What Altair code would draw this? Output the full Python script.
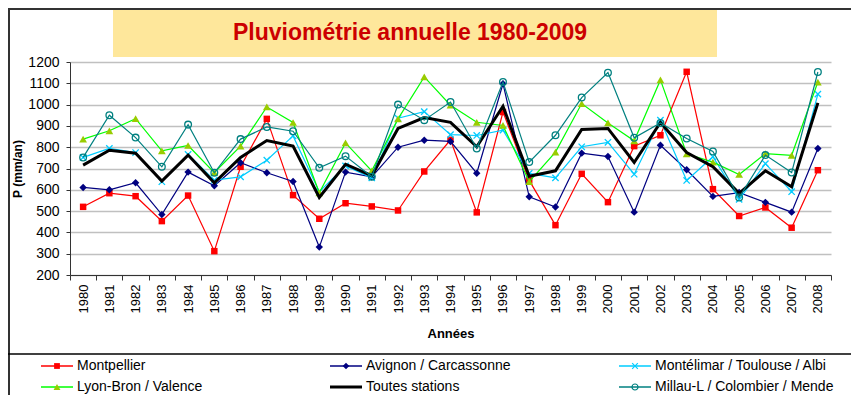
import altair as alt
import pandas as pd

annees = ["1980", "1981", "1982", "1983", "1984", "1985", "1986", "1987", "1988", "1989",
          "1990", "1991", "1992", "1993", "1994", "1995", "1996", "1997", "1998", "1999",
          "2000", "2001", "2002", "2003", "2004", "2005", "2006", "2007", "2008"]

montpellier = [520, 584, 570, 453, 573, 312, 708, 933, 575, 464, 537, 522, 503, 686, 835,
               494, 965, 644, 434, 675, 542, 805, 856, 1154, 603, 477, 517, 422, 692]
avignon = [611, 600, 633, 484, 683, 619, 727, 680, 639, 331, 683, 661, 800, 833, 827,
           678, 1098, 567, 519, 772, 756, 495, 809, 694, 569, 587, 541, 495, 794]
montelimar = [752, 794, 775, 638, 766, 645, 661, 739, 853, 591, 712, 656, 936, 967, 859,
              855, 880, 677, 656, 802, 823, 673, 927, 644, 755, 555, 723, 591, 1049]
lyon = [838, 877, 934, 783, 808, 681, 805, 989, 916, 586, 820, 689, 933, 1130, 997,
        917, 902, 638, 777, 1005, 914, 830, 1116, 769, 730, 672, 770, 762, 1106]
toutes = [716, 786, 772, 641, 763, 633, 752, 831, 805, 564, 720, 666, 888, 939, 917,
          802, 992, 664, 689, 883, 888, 728, 916, 775, 708, 583, 689, 614, 1008]
millau = [752, 950, 845, 708, 906, 680, 838, 895, 875, 703, 758, 661, 1000, 927, 1012,
          794, 1106, 730, 856, 1033, 1150, 844, 914, 841, 780, 564, 763, 681, 1153]

series_names = ["Montpellier", "Avignon / Carcassonne", "Montélimar / Toulouse / Albi",
                "Lyon-Bron / Valence", "Toutes stations", "Millau-L / Colombier / Mende"]
series_values = [montpellier, avignon, montelimar, lyon, toutes, millau]
y_ticks = [200, 300, 400, 500, 600, 700, 800, 900, 1000, 1100, 1200]
titre = "Pluviométrie annuelle 1980-2009"

rows = []
for name, vals in zip(series_names, series_values):
    for a, v in zip(annees, vals):
        rows.append({"annee": a, "serie": name, "p": v})
df = pd.DataFrame(rows)

X_PATH = "M-1,-1L1,1M-1,1L1,-1"
styles = {
    "Montpellier": dict(line="#FF0000", w=1.2, shape="square", fill="#FF0000", stroke=None, size=42),
    "Avignon / Carcassonne": dict(line="#000080", w=1.2, shape="diamond", fill="#000080", stroke=None, size=55),
    "Montélimar / Toulouse / Albi": dict(line="#00CCFF", w=1.2, shape=X_PATH, fill=None, stroke="#00CCFF", size=40),
    "Lyon-Bron / Valence": dict(line="#00FF00", w=1.2, shape="triangle-up", fill="#99CC00", stroke=None, size=60),
    "Toutes stations": dict(line="#000000", w=3, shape=None, fill=None, stroke=None, size=0),
    "Millau-L / Colombier / Mende": dict(line="#008080", w=1.2, shape="circle", fill=None, stroke="#008080", size=45),
}

W, H = 761, 213
OX, OY = 70, 62  # page position of plot origin
TOTAL_H = 387

x_enc = alt.X(
    "annee:O", bandPosition=0.5,
    scale=alt.Scale(type="band", paddingInner=0, paddingOuter=0, domain=annees),
    axis=alt.Axis(title="Années", labelAngle=270, labelAlign="right", labelBaseline="middle",
                  labelFontSize=13, labelPadding=4, tickBand="extent", tickSize=5,
                  titleFontSize=13, titleFontWeight="bold", titleX=W / 2, titleY=58,
                  titleBaseline="middle", grid=False, domainColor="#333333",
                  tickColor="#333333", labelColor="#000000", titleColor="#000000"),
)
y_enc = alt.Y(
    "p:Q",
    scale=alt.Scale(domain=[200, 1200], nice=False, zero=False),
    axis=alt.Axis(values=y_ticks, format="d", title="P (mm/an)", labelFontSize=14, labelPadding=7,
                  tickSize=4, titleFontSize=12, titleFontWeight="bold", titleAngle=270,
                  titleX=17 - OX, titleY=H / 2, titleAlign="center", titleBaseline="middle",
                  grid=True, gridColor="#C0C0C0", gridWidth=1.3, domainColor="#333333",
                  tickColor="#333333", labelColor="#000000", titleColor="#000000"),
)

one = pd.DataFrame({"k": [0]})
layers = []

# frame & title box
layers.append(alt.Chart(one).mark_rule(color="#333333", strokeWidth=2).encode(
    x=alt.value(8 - OX), x2=alt.value(851 - OX), y=alt.value(9 - OY)))
layers.append(alt.Chart(one).mark_rule(color="#333333", strokeWidth=2).encode(
    x=alt.value(9 - OX), y=alt.value(8 - OY), y2=alt.value(8 + TOTAL_H - OY)))
layers.append(alt.Chart(one).mark_rule(color="#000000", strokeWidth=1.3).encode(
    x=alt.value(8 - OX), x2=alt.value(851 - OX), y=alt.value(354 - OY)))
layers.append(alt.Chart(one).mark_rect(color="#FEE79B").encode(
    x=alt.value(113 - OX), x2=alt.value(717 - OX), y=alt.value(10 - OY), y2=alt.value(57 - OY)))
layers.append(alt.Chart(one).mark_text(text=titre, font="Arial", fontSize=23, fontWeight="bold",
                                       color="#CC0000", align="center", baseline="alphabetic").encode(
    x=alt.value(410 - OX), y=alt.value(40 - OY)))

# data series
for name in series_names:
    st = styles[name]
    base = alt.Chart(df).transform_filter(alt.datum.serie == name)
    layers.append(base.mark_line(color=st["line"], strokeWidth=st["w"]).encode(x=x_enc, y=y_enc))
    if st["shape"]:
        kw = dict(shape=st["shape"], size=st["size"], opacity=1)
        if st["fill"]:
            kw.update(filled=True, fill=st["fill"], color=st["fill"], strokeWidth=0)
        else:
            kw.update(filled=False, stroke=st["stroke"], color=st["stroke"], strokeWidth=1.3)
        layers.append(base.mark_point(**kw).encode(x=x_enc, y=y_enc))

# legend
col_x = [41, 330, 619]
row_y = [366, 387]
for i, name in enumerate(series_names):
    st = styles[name]
    lx = col_x[i % 3] - OX
    ly = row_y[i // 3] - OY
    layers.append(alt.Chart(one).mark_rule(color=st["line"], strokeWidth=min(st["w"] + 0.3, 3)).encode(
        x=alt.value(lx), x2=alt.value(lx + 32), y=alt.value(ly)))
    if st["shape"]:
        kw = dict(shape=st["shape"], size=st["size"] * 0.8, opacity=1)
        if st["fill"]:
            kw.update(filled=True, fill=st["fill"], color=st["fill"], strokeWidth=0)
        else:
            kw.update(filled=False, stroke=st["stroke"], color=st["stroke"], strokeWidth=1.2)
        layers.append(alt.Chart(one).mark_point(**kw).encode(x=alt.value(lx + 16), y=alt.value(ly)))
    layers.append(alt.Chart(one).mark_text(text=name, font="Arial", fontSize=14, color="#000000",
                                           align="left", baseline="middle").encode(
        x=alt.value(lx + 36), y=alt.value(ly)))

chart = alt.layer(*layers).properties(
    width=W, height=H,
    padding={"left": OX - 8, "top": OY - 8, "right": 843 - (OX - 8) - W,
             "bottom": TOTAL_H - (OY - 8) - H},
    autosize=alt.AutoSizeParams(type="none"),
).configure(font="Arial", background="white").configure_view(stroke=None)

chart.save("out.html", embed_options={"renderer": "svg", "actions": False})
